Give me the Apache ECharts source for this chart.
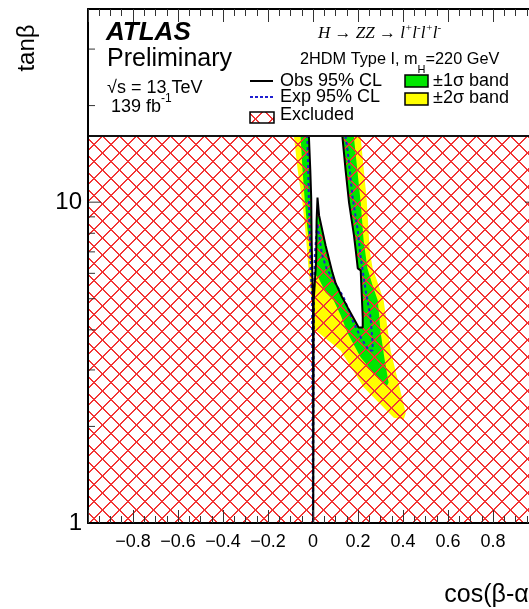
<!DOCTYPE html>
<html>
<head>
<meta charset="utf-8">
<script src="https://cdn.jsdelivr.net/npm/echarts@6/dist/echarts.min.js"></script>
<style>
  html, body { margin: 0; padding: 0; background: #fff; overflow: hidden; }
  #chart { width: 560px; height: 609px; }
</style>
</head>
<body>
<div id="chart"></div>
<script>
const obsX = [-0.026, -0.018, -0.012, -0.008, -0.006, -0.003, 0.000, 0.001, 0.002, 0.003, 0.014, 0.016, 0.020, 0.027, 0.056, 0.086, 0.101, 0.128, 0.154, 0.203, 0.221, 0.221, 0.212, 0.199, 0.190, 0.182, 0.160, 0.145, 0.131, 0.070]
const obsY = [40, 15.91, 12.56, 10.34, 7.60, 5.91, 4.94, 1.0, 1.0, 4.94, 6.58, 8.77, 10.34, 9.09, 7.33, 6.04, 5.58, 5.08, 4.70, 4.07, 4.07, 4.37, 6.13, 6.22, 7.07, 7.88, 9.98, 12.56, 15.91, 40]

// expected 95% CL contour
const expX = [-0.030, -0.025, -0.018, -0.010, -0.004, 0.000, 0.002, 0.004, 0.008, 0.019, 0.027, 0.041, 0.060, 0.092, 0.136, 0.176, 0.212, 0.248, 0.265, 0.265, 0.256, 0.234, 0.212, 0.199, 0.176, 0.154, 0.145, 0.100]
const expY = [40, 15.91, 9.98, 6.22, 4.94, 1.0, 1.0, 4.94, 6.82, 8.60, 7.88, 6.82, 6.22, 5.70, 5.05, 4.28, 3.79, 3.45, 3.45, 3.63, 4.37, 5.31, 6.73, 8.16, 10.34, 14.49, 15.91, 40]

// +-2 sigma band outline
const band2X = [-0.099, -0.084, -0.069, -0.047, -0.032, -0.020, -0.010, -0.004, 0.001, 0.012, 0.123, 0.225, 0.359, 0.403, 0.412, 0.399, 0.345, 0.314, 0.292, 0.265, 0.252, 0.239, 0.212, 0.190]
const band2Y = [40, 15.91, 12.74, 9.98, 7.88, 6.22, 5.31, 4.60, 3.76, 3.98, 3.45, 2.65, 2.13, 2.10, 2.20, 2.41, 3.45, 4.94, 5.50, 6.22, 7.07, 10.12, 15.91, 40]

// +-1 sigma band outline
const band1X = [-0.068, -0.055, -0.047, -0.036, -0.025, -0.015, -0.006, 0.003, 0.025, 0.056, 0.092, 0.123, 0.154, 0.212, 0.270, 0.314, 0.328, 0.336, 0.319, 0.301, 0.288, 0.265, 0.242, 0.225, 0.212, 0.182, 0.163]
const band1Y = [40, 15.91, 12.74, 9.98, 8.28, 7.33, 6.49, 6.04, 5.79, 5.23, 4.94, 4.44, 3.90, 3.28, 2.93, 2.72, 2.67, 2.74, 3.21, 3.90, 4.94, 5.50, 6.22, 7.60, 9.98, 15.91, 40]

// plot range
const xRange = [-1, 1]
const yRange = [1, 40]
const yTickVals = [1, 2, 3, 4, 5, 6, 7, 8, 9, 10, 20, 30]
const yMajor = [1, 10]

const sans = '"Liberation Sans", Arial, sans-serif'
const serif = '"Liberation Serif", "Times New Roman", serif'

// red cross hatch tile (two pixel stair lines), like ROOT fill style 3144
function hatchPattern() {
  const s = 17
  const c = document.createElement('canvas')
  c.width = s
  c.height = s
  const g = c.getContext('2d')
  g.fillStyle = '#f23535'
  for (let i = 0; i < s; i++) {
    g.fillRect(i, i, 1, 1)
    g.fillRect((i + 1) % s, i, 1, 1)
    g.fillRect(s - 1 - i, i, 1, 1)
    g.fillRect((s - i) % s, i, 1, 1)
  }
  return { image: c, repeat: 'repeat' }
}
const hatch = hatchPattern()

function zip(xs, ys) {
  return xs.map((x, i) => [x, ys[i]])
}

// one filled polygon from a list of points
function polySeries(xs, ys, fill, z) {
  return {
    type: 'custom',
    z: z,
    silent: true,
    clip: true,
    data: zip(xs, ys),
    renderItem(params, api) {
      if (params.dataIndex !== 0) return null
      const pts = xs.map((x, i) => api.coord([x, ys[i]]))
      return { type: 'polygon', shape: { points: pts }, style: { fill: fill } }
    }
  }
}

const measure = document.createElement('canvas').getContext('2d')
function tw(text, font) {
  measure.font = font
  return measure.measureText(text).width
}

// text pieces laid out one after another
function textRun(x0, pieces) {
  const out = []
  let x = x0
  pieces.forEach(p => {
    out.push({
      type: 'text', x: x, y: p[2], z: 42,
      style: { text: p[0], font: p[1], fill: '#000', align: 'left', verticalAlign: 'middle' }
    })
    x += tw(p[0], p[1])
  })
  return out
}

const f18 = '18px ' + sans
const f17 = '16.3px ' + sans
const fH = 'italic 17px ' + serif
const fHs = 'italic 11px ' + serif

const legend = [
  { type: 'rect', z: 40, shape: { x: 89, y: 10, width: 448, height: 126 }, style: { fill: '#fff' } },
  { type: 'line', z: 41, shape: { x1: 88, y1: 136, x2: 538, y2: 136 }, style: { stroke: '#111', lineWidth: 2 } },
  { type: 'text', z: 42, x: 106, y: 33, style: { text: 'ATLAS', font: 'italic bold 26px ' + sans, fill: '#000', verticalAlign: 'middle' } },
  { type: 'text', z: 42, x: 107, y: 59, style: { text: 'Preliminary', font: '25px ' + sans, fill: '#000', verticalAlign: 'middle' } },
  { type: 'text', z: 42, x: 107, y: 88, style: { text: '√s = 13 TeV', font: f18, fill: '#000', verticalAlign: 'middle' } },
  ...textRun(111, [['139 fb', f18, 107], ['-1', '12px ' + sans, 99]]),
  ...textRun(318, [['H → ZZ → ', fH, 34], ['l', fH, 34], ['+', fHs, 28], ['l', fH, 34], ['-', fHs, 28],
    ['l', fH, 34], ['+', fHs, 28], ['l', fH, 34], ['-', fHs, 28]]),
  ...textRun(300, [['2HDM Type I, m', f17, 60], ['H', '11px ' + sans, 70], ['=220 GeV', f17, 60]]),
  { type: 'line', z: 42, shape: { x1: 250, y1: 81, x2: 273, y2: 81 }, style: { stroke: '#000', lineWidth: 2 } },
  { type: 'line', z: 42, shape: { x1: 250, y1: 97, x2: 273, y2: 97 }, style: { stroke: '#1f1fd0', lineWidth: 2, lineDash: [3, 2] } },
  { type: 'rect', z: 42, shape: { x: 250, y: 112, width: 24, height: 11 }, style: { fill: hatch, stroke: '#000', lineWidth: 1.5 } },
  { type: 'text', z: 42, x: 280, y: 81, style: { text: 'Obs 95% CL', font: f18, fill: '#000', verticalAlign: 'middle' } },
  { type: 'text', z: 42, x: 280, y: 97, style: { text: 'Exp 95% CL', font: f18, fill: '#000', verticalAlign: 'middle' } },
  { type: 'text', z: 42, x: 280, y: 115, style: { text: 'Excluded', font: f18, fill: '#000', verticalAlign: 'middle' } },
  { type: 'rect', z: 42, shape: { x: 405, y: 75, width: 23, height: 12 }, style: { fill: '#00e600', stroke: '#000', lineWidth: 1.5 } },
  { type: 'rect', z: 42, shape: { x: 405, y: 93, width: 23, height: 12 }, style: { fill: '#ffff00', stroke: '#000', lineWidth: 1.5 } },
  { type: 'text', z: 42, x: 433, y: 81, style: { text: '±1σ band', font: f18, fill: '#000', verticalAlign: 'middle' } },
  { type: 'text', z: 42, x: 433, y: 98, style: { text: '±2σ band', font: f18, fill: '#000', verticalAlign: 'middle' } },
  // axis titles
  { type: 'text', z: 42, x: 27, y: 48, rotation: Math.PI / 2, style: { text: 'tanβ', font: '24px ' + sans, fill: '#000', align: 'center', verticalAlign: 'middle' } },
  { type: 'text', z: 42, x: 537, y: 595, style: { text: 'cos(β-α)', font: '25px ' + sans, fill: '#000', align: 'right', verticalAlign: 'middle' } }
]

const xAxisBase = {
  type: 'value',
  min: xRange[0],
  max: xRange[1],
  interval: 0.2,
  z: 50,
  axisLine: { show: true, onZero: false, lineStyle: { color: '#000', width: 2 } },
  axisTick: { show: true, inside: true, length: 13, lineStyle: { color: '#333', width: 1 } },
  minorTick: { show: true, splitNumber: 4, length: 7, lineStyle: { color: '#333', width: 1 } },
  splitLine: { show: false },
  minorSplitLine: { show: false }
}

const chart = echarts.init(document.getElementById('chart'))
chart.setOption({
  animation: false,
  backgroundColor: '#fff',
  grid: { left: 88, top: 9, width: 450, height: 514, outerBoundsMode: 'none' },
  xAxis: [
    Object.assign({}, xAxisBase, {
      position: 'bottom',
      axisLabel: {
        show: true,
        margin: 10,
        color: '#000',
        fontSize: 18,
        fontFamily: sans,
        formatter: v => (Math.abs(v) > 0.99 ? '' : Math.abs(v) < 1e-9 ? '0' : v.toFixed(1).replace('-', '−'))
      }
    }),
    Object.assign({}, xAxisBase, { position: 'top', axisLabel: { show: false } })
  ],
  yAxis: [
    {
      type: 'log',
      logBase: 10,
      min: yRange[0],
      max: yRange[1],
      position: 'left',
      z: 50,
      axisLine: { show: true, onZero: false, lineStyle: { color: '#000', width: 2 } },
      axisTick: { show: false },
      splitLine: { show: false },
      axisLabel: {
        margin: 6,
        color: '#000',
        fontSize: 24,
        fontFamily: sans,
        formatter: v => (Math.abs(v - 1) < 1e-6 ? '1' : Math.abs(v - 10) < 1e-6 ? '10' : '')
      }
    },
    {
      type: 'log',
      logBase: 10,
      min: yRange[0],
      max: yRange[1],
      position: 'right',
      z: 50,
      axisLine: { show: true, onZero: false, lineStyle: { color: '#000', width: 2 } },
      axisTick: { show: false },
      splitLine: { show: false },
      axisLabel: { show: false }
    }
  ],
  graphic: { elements: legend },
  series: [
    polySeries(band2X, band2Y, '#ffff00', 1),
    polySeries(band1X, band1Y, '#00e600', 2),
    // hatch the whole plane, the allowed region is painted white over it
    polySeries([xRange[0], xRange[1], xRange[1], xRange[0]], [yRange[0], yRange[0], yRange[1], yRange[1]], hatch, 3),
    polySeries(obsX, obsY, '#ffffff', 4),
    {
      type: 'line',
      z: 5,
      silent: true,
      showSymbol: false,
      data: zip(expX, expY),
      lineStyle: { color: '#1f1fd0', width: 2, type: [3, 3] }
    },
    {
      type: 'line',
      z: 6,
      silent: true,
      showSymbol: false,
      data: zip(obsX, obsY),
      lineStyle: { color: '#000', width: 2 }
    },
    {
      // log axis ticks, left and right, at 1..9, 10, 20, 30
      type: 'custom',
      z: 45,
      silent: true,
      data: yTickVals.map(v => [xRange[0], v]),
      renderItem(params, api) {
        const v = api.value(1)
        const len = yMajor.indexOf(v) >= 0 ? 13 : 7
        const l = api.coord([xRange[0], v])
        const r = api.coord([xRange[1], v])
        return {
          type: 'group',
          children: [
            { type: 'line', shape: { x1: l[0], y1: l[1], x2: l[0] + len, y2: l[1] }, style: { stroke: '#333', lineWidth: 1 } },
            { type: 'line', shape: { x1: r[0], y1: r[1], x2: r[0] - len, y2: r[1] }, style: { stroke: '#333', lineWidth: 1 } }
          ]
        }
      }
    }
  ]
})
</script>
</body>
</html>
